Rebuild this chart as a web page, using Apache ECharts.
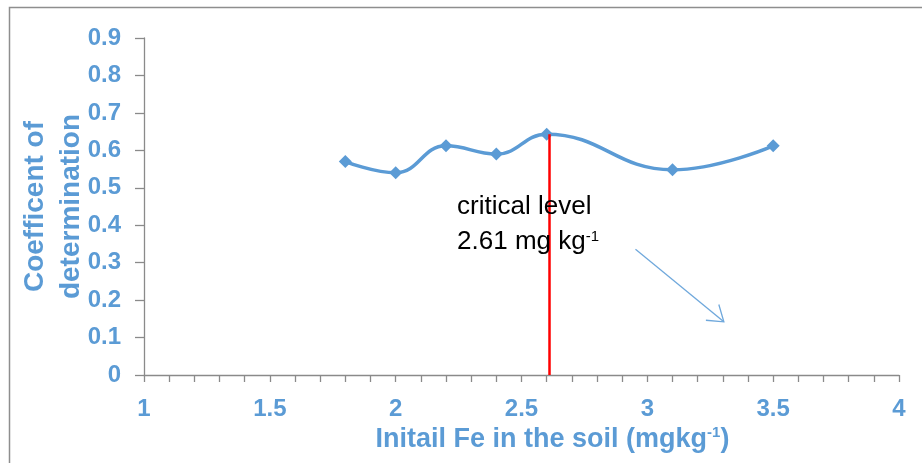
<!DOCTYPE html>
<html><head><meta charset="utf-8">
<script src="https://cdn.jsdelivr.net/npm/echarts@6/dist/echarts.min.js"></script>
<style>html,body{margin:0;padding:0;background:#fff}#c{width:922px;height:463px}</style>
</head><body><div id="c"></div>
<script>
// ---- data ----
const ironLevels = [1.8, 2.0, 2.2, 2.4, 2.6, 3.1, 3.5];
const r2Values = [0.57, 0.54, 0.612, 0.59, 0.643, 0.548, 0.612];
const xRange = [1, 4, 0.5];
const yRange = [0, 0.9, 0.1];
const criticalLevel = 2.61;
const criticalTop = 0.643;
const arrowFrom = [2.953, 0.336];
const arrowTo = [3.304, 0.142];
const noteAnchor = [2.244, 0.497];
const noteText = 'critical level\n2.61 mg kg{s|-1}';
const xTitle = 'Initail Fe in the soil (mgkg{s|-1})';
const yTitle = 'Coefficent of\ndetermination';

const BLUE = '#5b9bd5';
const FONT = "'Liberation Sans', Arial, sans-serif";
const AXIS = '#8a8a8a';

const chart = echarts.init(document.getElementById('c'));
chart.setOption({
  animation: false,
  backgroundColor: '#fff',
  grid: { left: 144, right: 23, top: 38, bottom: 88, containLabel: false, outerBoundsMode: 'none' },
  xAxis: {
    type: 'value', min: xRange[0], max: xRange[1], interval: xRange[2],
    splitLine: { show: false },
    axisLine: { show: true, lineStyle: { color: AXIS, width: 1.3 } },
    axisTick: { show: true, inside: false, length: 7, lineStyle: { color: AXIS, width: 1.3 } },
    minorTick: { show: true, splitNumber: 5, length: 7, lineStyle: { color: AXIS, width: 1.3 } },
    axisLabel: { color: BLUE, fontFamily: FONT, fontWeight: 'bold', fontSize: 24, margin: 22 },
    name: xTitle, nameLocation: 'middle', nameGap: 50, nameMoveOverlap: false,
    nameTextStyle: {
      color: BLUE, fontFamily: FONT, fontWeight: 'bold', fontSize: 27, lineHeight: 30,
      padding: [0, 0, 0, 62],
      rich: { s: { color: BLUE, fontFamily: FONT, fontWeight: 'bold', fontSize: 15, verticalAlign: 'top', lineHeight: 30, padding: [0, 0, 0, 0] } }
    }
  },
  yAxis: {
    type: 'value', min: yRange[0], max: yRange[1], interval: yRange[2],
    splitLine: { show: false },
    axisLine: { show: true, lineStyle: { color: AXIS, width: 1.3 } },
    axisTick: { show: true, length: 9, lineStyle: { color: AXIS, width: 1.3 } },
    axisLabel: { color: BLUE, fontFamily: FONT, fontWeight: 'bold', fontSize: 24, margin: 23 },
    name: yTitle, nameLocation: 'middle', nameGap: 55, nameRotate: 90, nameMoveOverlap: false,
    nameTextStyle: { color: BLUE, fontFamily: FONT, fontWeight: 'bold', fontSize: 28, lineHeight: 36, align: 'center' }
  },
  series: [{
    type: 'line',
    data: ironLevels.map((x, i) => [x, r2Values[i]]),
    smooth: 0.45,
    symbol: 'diamond', symbolSize: 13,
    lineStyle: { color: BLUE, width: 3.5 },
    itemStyle: { color: BLUE },
    z: 2,
    markLine: {
      silent: true, symbol: ['none', 'none'],
      label: { show: false },
      lineStyle: { color: '#ff0000', width: 2.5, type: 'solid' },
      data: [[{ coord: [criticalLevel, yRange[0]] }, { coord: [criticalLevel, criticalTop] }]]
    }
  }]
});

const p0 = chart.convertToPixel({ gridIndex: 0 }, arrowFrom);
const p1 = chart.convertToPixel({ gridIndex: 0 }, arrowTo);
const ang = Math.atan2(p1[1] - p0[1], p1[0] - p0[0]);
const headLen = 18, headAng = 0.6;
const h1 = [p1[0] - headLen * Math.cos(ang - headAng), p1[1] - headLen * Math.sin(ang - headAng)];
const h2 = [p1[0] - headLen * Math.cos(ang + headAng), p1[1] - headLen * Math.sin(ang + headAng)];
const na = chart.convertToPixel({ gridIndex: 0 }, noteAnchor);

chart.setOption({
  graphic: [
    { type: 'rect', silent: true, shape: { x: 9.5, y: 7.5, width: 940, height: 480 },
      style: { fill: 'none', stroke: '#8e8e8e', lineWidth: 1.5 } },
    { type: 'polyline', silent: true, shape: { points: [p0, p1] },
      style: { stroke: '#6fa8dc', lineWidth: 1.3, fill: 'none' } },
    { type: 'polyline', silent: true, shape: { points: [h1, p1, h2] },
      style: { stroke: '#6fa8dc', lineWidth: 1.3, fill: 'none' } },
    { type: 'text', silent: true, x: na[0], y: na[1], z: 10,
      style: { text: noteText, fill: '#000', fontFamily: FONT, fontSize: 26, lineHeight: 35,
        rich: { s: { fill: '#000', fontFamily: FONT, fontSize: 15, verticalAlign: 'top', lineHeight: 35, padding: [5, 0, 0, 0] } } } }
  ]
});
</script></body></html>
